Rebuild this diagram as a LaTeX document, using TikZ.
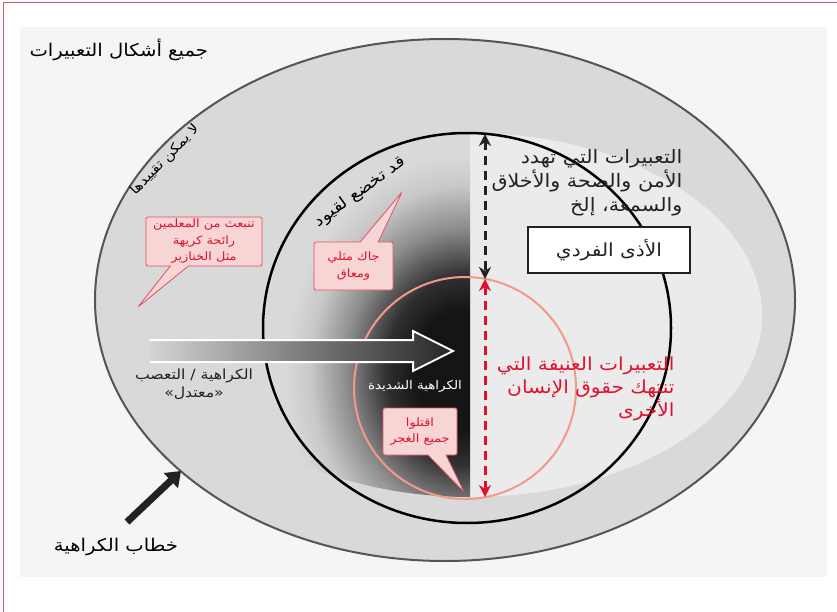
\documentclass[tikz,border=0pt]{standalone}
\usepackage{fontspec}
\usepackage{tikz}
\usetikzlibrary{arrows.meta,shapes.callouts,positioning}
\newfontfamily\arabicfont[Script=Arabic, FakeStretch=1.12]{DejaVu Sans}
\TeXXeTstate=1
\newcommand{\arline}[1]{\beginR #1\endR}

\definecolor{framered}{HTML}{E2506A}
\definecolor{panelgrey}{HTML}{F5F5F5}
\definecolor{bandgrey}{HTML}{D9D9D9}
\definecolor{edgegrey}{HTML}{555555}
\definecolor{lightzone}{HTML}{EBEBEB}
\definecolor{salmon}{HTML}{F29A8A}
\definecolor{hatered}{HTML}{E0102F}
\definecolor{calloutfill}{HTML}{F7D5D5}
\definecolor{calloutline}{HTML}{E05068}
\definecolor{inkgrey}{HTML}{222222}
\definecolor{glowA}{HTML}{151515}
\definecolor{glowB}{HTML}{303030}
\definecolor{glowC}{HTML}{8C8C8C}
\definecolor{glowD}{HTML}{C8C8C8}
\definecolor{arrowlight}{HTML}{D4D4D4}
\definecolor{arrowdark}{HTML}{262626}

% inner square of the shading (25bp) is fitted to the path
\pgfdeclareradialshading{hateglow}{\pgfpoint{0bp}{0bp}}{%
  color(0bp)=(glowA); color(7bp)=(glowA); color(11bp)=(glowB);
  color(16.5bp)=(glowC); color(21.5bp)=(glowD); color(25bp)=(bandgrey);
  color(50bp)=(bandgrey)}

\begin{document}
\begin{tikzpicture}[x=1pt, y=-1pt,
    every node/.style={font=\arabicfont\fontsize{14}{20}\selectfont, text=inkgrey},
    callout box/.style={rectangle callout, draw=calloutline, fill=calloutfill,
        line width=0.8pt, text=hatered, align=center, inner sep=0pt,
        callout pointer width=18pt, rounded corners=2pt,
        font=\arabicfont\fontsize{11.5}{16.5}\selectfont},
    ring/.style={line width=2.5pt},
    dim arrow/.style={line width=3pt, dash pattern=on 9pt off 6pt,
        {Stealth[length=12pt,width=12pt]}-{Stealth[length=12pt,width=12pt]}},
    arc label/.style={font=\arabicfont\fontsize{13.5}{16}\selectfont, text=black}
]
    \useasboundingbox (0,0) rectangle (837,612);

    % frame and panel
    \draw[framered, line width=1pt] (3,612) -- (3,2.5) -- (837,2.5);
    \fill[panelgrey] (20,27) rectangle (827,577);

    % all forms of expression
    \draw[fill=bandgrey, draw=edgegrey, line width=2pt] (445,300) ellipse [x radius=350, y radius=261];

    % inner zone: light half and dark glow
    \begin{scope}
        \clip (470,315) ellipse [x radius=292, y radius=182];
        \fill[lightzone] (470,120) rectangle (800,510);
        \clip (150,120) rectangle (470,510);
        \shade[shading=hateglow] (465,370) ellipse [x radius=180, y radius=215];
    \end{scope}

    \draw[ring, black] (467,328) ellipse [x radius=204, y radius=195];
    \draw[salmon, line width=2pt] (465,388) circle (111);

    % gradient arrow
    \draw[white, line width=2pt, left color=arrowlight, right color=arrowdark]
        (150,340) -- (413,340) -- (413,331) -- (453,351) -- (413,371) -- (413,362) -- (150,362);

    % measure arrows
    \coordinate (circletop) at (485,134);
    \coordinate (redtop) at (485,279);
    \coordinate (redbottom) at (485,497);
    \draw[dim arrow, inkgrey] (circletop) -- (redtop);
    \draw[dim arrow, hatered] (redtop) -- (redbottom);

    % labels
    \node[anchor=west, font=\arabicfont\fontsize{17.5}{20}\selectfont, text=black] (title) at (26,50) {\arline{جميع أشكال التعبيرات}};
    \node[arc label, rotate=46] (unbounded) at (165,160) {\arline{لا يمكن تقييدها}};
    \node[arc label, rotate=36, font=\arabicfont\fontsize{16}{18}\selectfont] (bounded) at (360,192) {\arline{قد تخضع لقيود}};

    \node[anchor=north east, align=right, font=\arabicfont\fontsize{18.5}{24}\selectfont] (threats) at (686,146)
        {\arline{التعبيرات التي تهدد}\\\arline{الأمن والصحة والأخلاق}\\\arline{والسمعة، إلخ}};
    \node[draw=inkgrey, fill=white, line width=2pt, minimum width=162pt, minimum height=45pt,
        font=\arabicfont\fontsize{18}{20}\selectfont] (harm) at (609,250)
        {\arline{الأذى الفردي}};
    \node[anchor=north east, align=right, text=hatered, font=\arabicfont\fontsize{18}{23}\selectfont] (violent) at (678,353)
        {\arline{التعبيرات العنيفة التي}\\\arline{تنتهك حقوق الإنسان}\\\arline{الأخرى}};

    \node[align=center, font=\arabicfont\fontsize{14}{18}\selectfont] (moderate) at (194,384)
        {\arline{الكراهية / التعصب}\\\arline{«معتدل»}};
    \node[text=white, font=\arabicfont\fontsize{12}{14}\selectfont] (severe) at (415,386) {\arline{الكراهية الشديدة}};

    % callouts
    \node[callout box, minimum width=116pt, minimum height=49pt, callout absolute pointer={(138,307)}] (smell) at (204,241.5)
        {\arline{تنبعث من المعلمين}\\\arline{رائحة كريهة}\\\arline{مثل الخنازير}};
    \node[callout box, minimum width=79pt, minimum height=48pt, callout absolute pointer={(402,192)}] (jack) at (353.5,266)
        {\arline{جاك مثلي}\\\arline{ومعاق}};
    \node[callout box, minimum width=74pt, minimum height=47pt, callout absolute pointer={(464,492)}] (kill) at (420,431.5)
        {\arline{اقتلوا}\\\arline{جميع الغجر}};

    % hate speech pointer
    \node[font=\arabicfont\fontsize{17.5}{20}\selectfont, text=black] (hatespeech) at (116,547) {\arline{خطاب الكراهية}};
    \coordinate (arrowtail) at (127,522);
    \coordinate (outerhit) at (181,471);
    \draw[line width=7pt, inkgrey, -{Triangle[length=14pt,width=20pt]}] (arrowtail) -- (outerhit);
\end{tikzpicture}
\end{document}
